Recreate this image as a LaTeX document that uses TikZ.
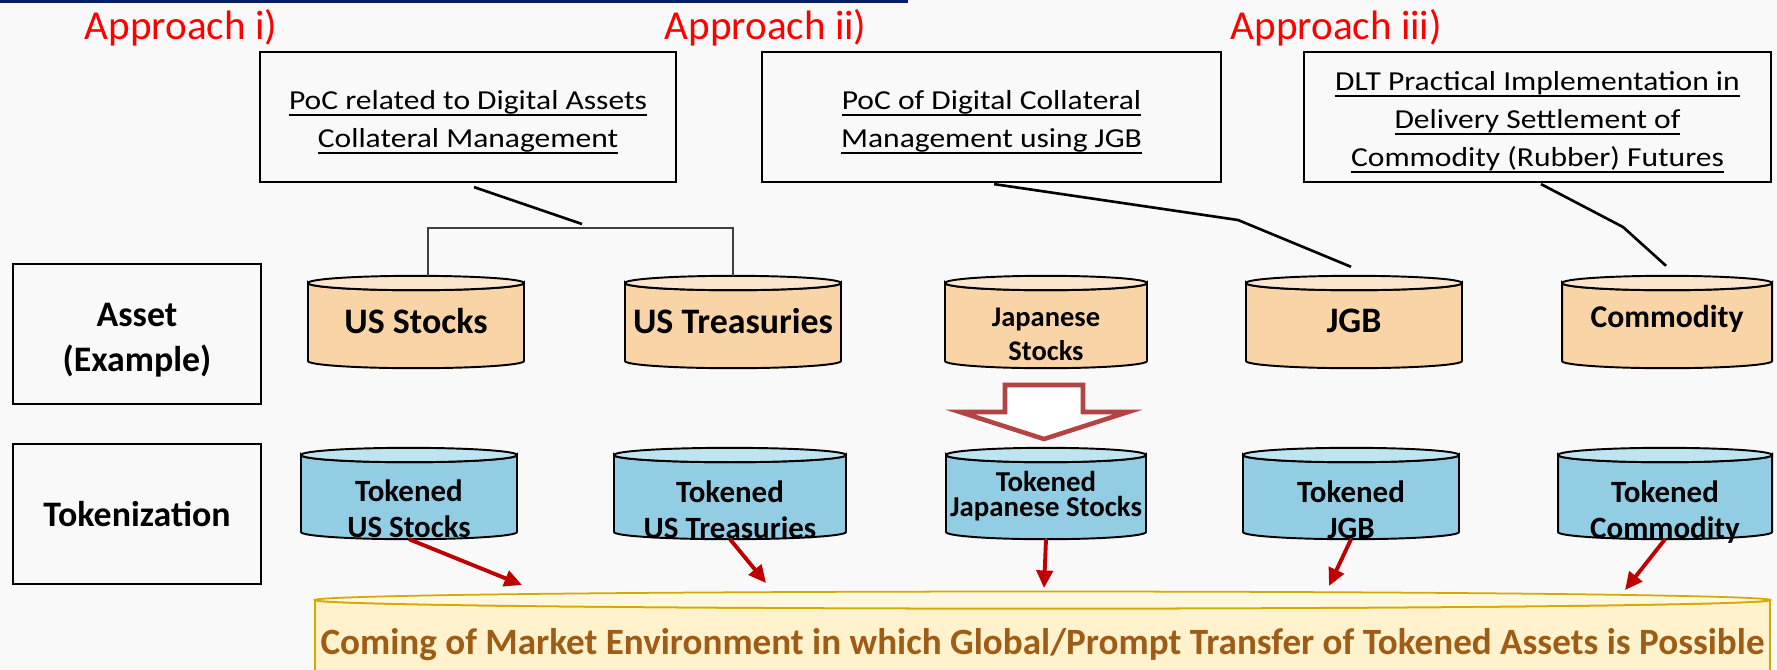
\documentclass[tikz,border=0pt]{standalone}
\usepackage{fontspec}
\setmainfont{Carlito}
\newfontfamily\boxfont[FakeStretch=1.15]{Carlito}
\usetikzlibrary{
	arrows.meta,        %提供各种箭头
	calc                %计算
}
\definecolor{bggray}{RGB}{249,249,249}
\definecolor{navy}{RGB}{0,32,96}
\definecolor{apred}{RGB}{255,0,0}
\definecolor{assetbody}{RGB}{248,212,166}
\definecolor{assettop}{RGB}{252,229,205}
\definecolor{tokenbody}{RGB}{147,205,228}
\definecolor{tokentop}{RGB}{190,228,242}
\definecolor{mktbody}{RGB}{255,242,204}
\definecolor{mkttop}{RGB}{255,247,222}
\definecolor{mktline}{RGB}{212,170,0}
\definecolor{mkttext}{RGB}{158,92,22}
\definecolor{arrred}{RGB}{192,0,0}
\definecolor{hollowred}{RGB}{178,68,68}
%下划线
\newcommand{\ulin}[1]{\underline{\smash{#1}\rule{0pt}{8.8pt}}}
%圆柱: 中心x, 顶面y, 底面y, 半宽, 椭圆半高, 侧面色, 顶面色, 线色
\newcommand{\drum}[8]{%
	\filldraw[fill=#6,draw=#8,line width=0.55pt] (#1-#4,#2) -- (#1-#4,#3)
	arc[start angle=180,end angle=0,x radius=#4,y radius=#5]
	-- (#1+#4,#2) arc[start angle=0,end angle=180,x radius=#4,y radius=#5] -- cycle;
	\filldraw[fill=#7,draw=#8,line width=0.55pt] (#1,#2) ellipse[x radius=#4,y radius=#5];
}
\tikzset{
	every picture/.style={
		>=latex,
		x=0.01cm,y=-0.01cm   %一个单位 = 原图一个像素
}}
\tikzset{
	approach/.style={text=apred,font=\fontsize{11.7}{14}\selectfont,anchor=base west,inner sep=0pt},
	pocbox/.style={draw,line width=0.6pt,minimum height=1.3cm,inner sep=0pt,align=center,
		font=\boxfont\fontsize{7.8}{10.8}\selectfont},
	rowbox/.style={draw,line width=0.6pt,minimum width=2.48cm,minimum height=1.4cm,inner sep=0pt,
		align=center,font=\bfseries\fontsize{10.2}{12.8}\selectfont},
	assettxt/.style={anchor=base,inner sep=0pt,align=center,font=\bfseries\fontsize{10.2}{12}\selectfont},
	tokentxt/.style={anchor=base,inner sep=0pt,align=center,font=\bfseries\fontsize{8.8}{10.2}\selectfont},
	link/.style={line width=0.75pt},
	bracket/.style={line width=0.35pt,black!75},
	tokarrow/.style={-{Triangle[length=5pt,width=4.6pt]},line width=1.1pt,arrred},
	hollow/.style={draw=hollowred,fill=white,line width=1.3pt,line join=miter}
}

\begin{document}
\begin{tikzpicture}
\def\ry{7.2}%圆柱顶面椭圆半高

%背景
\clip (0,0) rectangle (1777,669);
\fill[bggray] (0,0) rectangle (1777,669);
\fill[navy] (0,0) rectangle (908,3);

%三种方法
\node[approach] (ap1) at (84,39) {Approach i)};
\node[approach] (ap2) at (664,39) {Approach ii)};
\node[approach] (ap3) at (1230,39) {Approach iii)};

%PoC 框
\node[pocbox,minimum width=4.16cm] (poc1) at (468,117)
	{\ulin{PoC related to Digital Assets}\\\ulin{Collateral Management}};
\node[pocbox,minimum width=4.59cm] (poc2) at (991.5,117)
	{\ulin{PoC of Digital Collateral}\\\ulin{Management using JGB}};
\node[pocbox,minimum width=4.67cm] (poc3) at (1537.5,117)
	{\ulin{DLT Practical Implementation in}\\\ulin{Delivery Settlement of}\\\ulin{Commodity (Rubber) Futures}};

%左侧标题框
\node[rowbox,text height=23pt] (asset) at (137,334) {Asset\\(Example)};
\node[rowbox] (token) at (137,514) {Tokenization};

%资产层圆柱
\foreach \n/\cx/\rx in {aUS/416/108,aUST/733/108,aJS/1046/101,aJGB/1354/108,aCom/1667/105}{
	\drum{\cx}{283}{361}{\rx}{\ry}{assetbody}{assettop}{black}
	\coordinate (\n-top) at (\cx,283-\ry);
}
\node[assettxt] (aUS) at (416,333) {US Stocks};
\node[assettxt] (aUST) at (733,333) {US Treasuries};
\node[assettxt,font=\bfseries\fontsize{8.1}{9.4}\selectfont] (aJS) at (1046,360) {Japanese\\Stocks};
\node[assettxt] (aJGB) at (1354,332) {JGB};
\node[assettxt,font=\bfseries\fontsize{9}{11}\selectfont] (aCom) at (1667,327) {Commodity};

%代币层圆柱
\foreach \n/\cx/\rx in {tUS/409/108,tUST/730/116,tJS/1046/100,tJGB/1351/108,tCom/1665/107}{
	\drum{\cx}{455}{532}{\rx}{\ry}{tokenbody}{tokentop}{black}
	\coordinate (\n-bot) at (\cx,532+\ry);
}
\node[tokentxt] (tUS) at (409,537) {Tokened\\US Stocks};
\node[tokentxt] (tUST) at (730,538) {Tokened\\US Treasuries};
\node[tokentxt,font=\bfseries\fontsize{8.2}{6.9}\selectfont] (tJS) at (1046,516) {Tokened\\Japanese Stocks};
\node[tokentxt] (tJGB) at (1351,538) {Tokened\\JGB};
\node[tokentxt] (tCom) at (1665,538) {Tokened\\Commodity};

%底部市场圆柱
\filldraw[fill=mktbody,draw=mktline,line width=0.5pt] (315,600) -- (315,700) -- (1770,700) -- (1770,600)
	arc[start angle=0,end angle=180,x radius=727.5,y radius=8.5] -- cycle;
\filldraw[fill=mkttop,draw=mktline,line width=0.5pt] (1042.5,600) ellipse[x radius=727.5,y radius=8.5];
\node[anchor=base,inner sep=0pt,text=mkttext,font=\bfseries\fontsize{10.55}{12}\selectfont] (mkt) at (1042.5,654)
	{Coming of Market Environment in which Global/Prompt Transfer of Tokened Assets is Possible};
\coordinate (m1) at (522,585);
\coordinate (m2) at (766,583);
\coordinate (m3) at (1044,588);
\coordinate (m4) at (1329,586);
\coordinate (m5) at (1625,590);

%PoC 与资产的连线
\draw[link] ($(poc1.south)+(6,4)$) -- (582,224);
\draw[bracket] (aUS-top) ++(12,0) |- (733,228) -- (aUST-top);
\draw[link] ($(poc2.south)+(2.5,1)$) -- (1238,220) -- ($(aJGB-top)+(-3,-9)$);
\draw[link] ($(poc3.south)+(3.5,1)$) -- (1623,227) -- ($(aCom-top)+(-1,-10)$);

%空心箭头
\draw[hollow] (1005,385) -- (1083,385) -- (1083,412) -- (1128,412) -- (1044,439)
	-- (960,412) -- (1005,412) -- cycle;

%代币到市场的箭头
\foreach \a/\b in {tUS/m1,tUST/m2,tJS/m3,tJGB/m4,tCom/m5}
\draw[tokarrow] (\a-bot) -- (\b);

\end{tikzpicture}
\end{document}
